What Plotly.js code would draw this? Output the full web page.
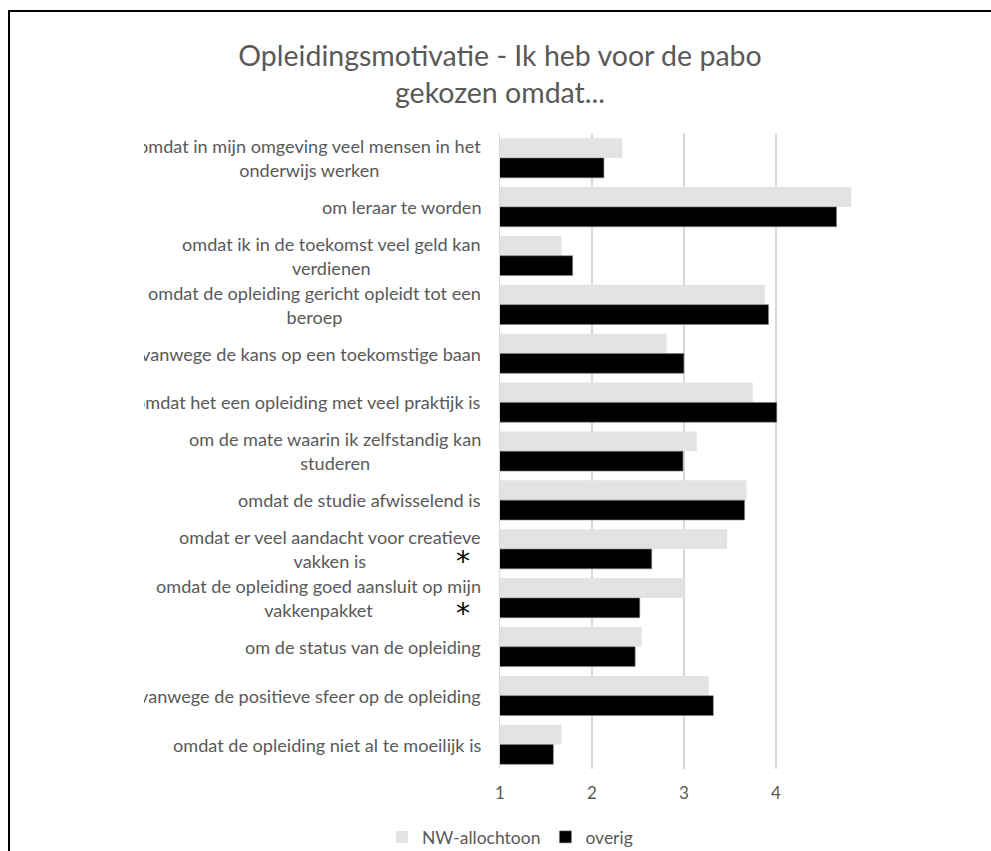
<!DOCTYPE html>
<html>
<head>
<meta charset="utf-8">
<script src="https://cdn.plot.ly/plotly-3.0.1.min.js"></script>
<style>
  html, body { margin: 0; padding: 0; background: #fff; }
  #wrap { position: relative; width: 991px; height: 851px; }
  #chart { position: absolute; left: 0; top: 0; width: 991px; height: 851px; }
  #frame { position: absolute; left: 8px; top: 10px; width: 983px; height: 841px;
           border-left: 2px solid #000; border-top: 2px solid #000; box-sizing: border-box; pointer-events: none; }
  #clip { position: absolute; left: 10px; top: 120px; width: 134px; height: 660px; background: #fff; pointer-events: none; }
</style>
</head>
<body>
<div id="wrap">
  <div id="chart"></div>
  <div id="clip"></div>
  <div id="frame"></div>
</div>
<script>
const categories = [
  "omdat in mijn omgeving veel mensen in het<br>onderwijs werken",
  "om leraar te worden",
  "omdat ik in de toekomst veel geld kan<br>verdienen",
  "omdat de opleiding gericht opleidt tot een<br>beroep",
  "vanwege de kans op een toekomstige baan",
  "omdat het een opleiding met veel praktijk is",
  "om de mate waarin ik zelfstandig kan<br>studeren",
  "omdat de studie afwisselend is",
  "omdat er veel aandacht voor creatieve<br>vakken is",
  "omdat de opleiding goed aansluit op mijn<br>vakkenpakket",
  "om de status van de opleiding",
  "vanwege de positieve sfeer op de opleiding",
  "omdat de opleiding niet al te moeilijk is"
];
const nwAllochtoon = [2.33, 4.82, 1.67, 3.88, 2.81, 3.75, 3.14, 3.68, 3.47, 3.00, 2.54, 3.27, 1.67];
const overig       = [2.13, 4.66, 1.79, 3.92, 3.00, 4.01, 2.99, 3.66, 2.65, 2.52, 2.47, 3.32, 1.58];
const seriesNames = ["NW-allochtoon", "overig"];
const xTicks = [1, 2, 3, 4];
const significantRows = [8, 9];
const titleText = "Opleidingsmotivatie - Ik heb voor de pabo<br>gekozen omdat...";

const FONT = "Lato, 'Liberation Sans', sans-serif";
const GREY = "#595959";

const traces = [
  { type: "bar", orientation: "h", name: seriesNames[0], y: categories, x: nwAllochtoon,
    marker: { color: "#e3e3e3", line: { width: 0 } }, hoverinfo: "x+name" },
  { type: "bar", orientation: "h", name: seriesNames[1], y: categories, x: overig,
    marker: { color: "#000000", line: { color: "#7f7f7f", width: 0.6 } }, hoverinfo: "x+name" }
];

const annotations = categories.map((c, i) => ({
  xref: "paper", yref: "y", x: 0, y: i, xshift: -17,
  xanchor: "right", yanchor: "middle", align: "center",
  text: c, showarrow: false, font: { family: FONT, size: 18.1, color: GREY }
}));
significantRows.forEach((r, k) => {
  annotations.push({
    xref: "paper", yref: "y", x: 0, y: r, xshift: -37, yshift: k === 0 ? -12 : -16,
    xanchor: "center", yanchor: "middle", text: "*", showarrow: false,
    font: { family: "'DejaVu Sans', sans-serif", size: 28, color: "#000" }
  });
});

const layout = {
  width: 991, height: 851,
  margin: { l: 500, r: 137, t: 133, b: 82 },
  paper_bgcolor: "rgba(0,0,0,0)", plot_bgcolor: "#fff",
  font: { family: FONT, size: 17, color: GREY },
  title: { text: titleText, xref: "container", x: 500 / 991, xanchor: "center",
           yref: "container", y: 1 - 66 / 851, yanchor: "top",
           font: { family: FONT, size: 28.5, color: GREY } },
  barmode: "group", bargap: 0.19, bargroupgap: 0,
  xaxis: { range: [1, 4.85], tickvals: xTicks, ticktext: xTicks.map(String),
           showgrid: true, gridcolor: "#d9d9d9", gridwidth: 1.5, zeroline: false,
           showline: false, ticks: "", ticklabelstandoff: 12,
           tickfont: { family: FONT, size: 17, color: GREY }, fixedrange: true },
  yaxis: { type: "category", autorange: "reversed", showticklabels: false, showgrid: false,
           zeroline: false, showline: true, linecolor: "#d9d9d9", linewidth: 1.5, ticks: "", fixedrange: true },
  showlegend: true,
  legend: { orientation: "h", xref: "container", yref: "container", x: 510 / 991, xanchor: "center",
            y: 1 - 837 / 851, yanchor: "middle", traceorder: "normal",
            font: { family: FONT, size: 17.5, color: GREY }, itemwidth: 30 },
  annotations: annotations
};

Plotly.newPlot("chart", traces, layout, { displayModeBar: false, staticPlot: true });
</script>
</body>
</html>
